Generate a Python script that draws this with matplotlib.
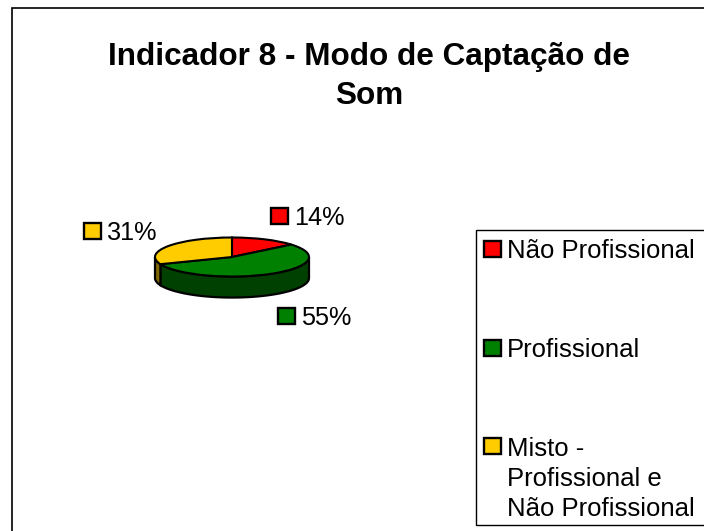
import numpy as np
import matplotlib
matplotlib.use("Agg")
import matplotlib.pyplot as plt
from matplotlib.patches import Rectangle

plt.rcParams['font.family'] = ['Liberation Sans', 'DejaVu Sans']

# Data
categories = ['Não Profissional', 'Profissional', 'Misto -\nProfissional e\nNão Profissional']
values = [14, 55, 31]
colors = ['#ff0000', '#008000', '#ffcc00']
side_colors = ['#800000', '#004000', '#806600']
title = 'Indicador 8 - Modo de Captação de\nSom'

W, H = 704, 531
DEPTH = 1.08  # wall height, in units of the squashed radius

fig = plt.figure(figsize=(W / 100, H / 100), dpi=100, facecolor='white')

# overlay in pixel coords for frames, labels and legend
bg = fig.add_axes([0, 0, 1, 1])
bg.set_xlim(0, W)
bg.set_ylim(H, 0)
bg.axis('off')
# chart border, right and bottom are cut off by the image
bg.plot([11.5, 11.5, W], [H, 8, 8], color='black', lw=1.2, solid_joinstyle='miter')
bg.text(369, 104, title, ha='center', va='baseline', fontsize=22.7, fontweight='bold',
        linespacing=1.38, color='black')

# pie axes, top ellipse is 77 x 19.5 px
cx, cy, a, b = 232, 257, 77, 19.5
ax = fig.add_axes([(cx - a) / W, 1 - (cy + b + DEPTH * b) / H, 2 * a / W, (2 + DEPTH) * b / H])

# walls, only the front half (90..270 deg clockwise from the top) shows
edges = np.cumsum([0] + values) / sum(values) * 360
for start, end, col in zip(edges[:-1], edges[1:], side_colors):
    lo, hi = max(start, 90), min(end, 270)
    if hi <= lo:
        continue
    t = np.radians(np.linspace(lo, hi, 60))
    xs = np.sin(t)
    ys = np.cos(t)
    ax.fill(np.r_[xs, xs[::-1]], np.r_[ys, ys[::-1] - DEPTH], fc=col, ec='black', lw=1.6)

wedges, _ = ax.pie(values, colors=colors, startangle=90, counterclock=False, radius=1,
                   wedgeprops={'edgecolor': 'black', 'linewidth': 1.5})
ax.set_aspect('auto')
ax.set_xlim(-1, 1)
ax.set_ylim(-1 - DEPTH, 1)
ax.axis('off')
for c in ax.patches:
    c.set_clip_on(False)

# data labels
label_xy = [(271, 208), (278, 308), (84, 223)]
for (x, y), v, col in zip(label_xy, values, colors):
    bg.add_patch(Rectangle((x, y), 17, 16, fc=col, ec='black', lw=1.7))
    bg.text(x + 23, y + 17, f'{v}%', ha='left', va='baseline', fontsize=18.2, color='black')

# legend
bg.add_patch(Rectangle((475.5, 229.5), 240, 295, fc='white', ec='black', lw=1))
leg_y = [241, 340, 438]
leg_base = [258, 357, 516]
for y, base, name, col in zip(leg_y, leg_base, categories, colors):
    bg.add_patch(Rectangle((484, y), 17, 16, fc=col, ec='black', lw=1.7))
    bg.text(507, base, name, ha='left', va='baseline', fontsize=18.5, linespacing=1.32, color='black')

fig.savefig('out.png', dpi=100)
